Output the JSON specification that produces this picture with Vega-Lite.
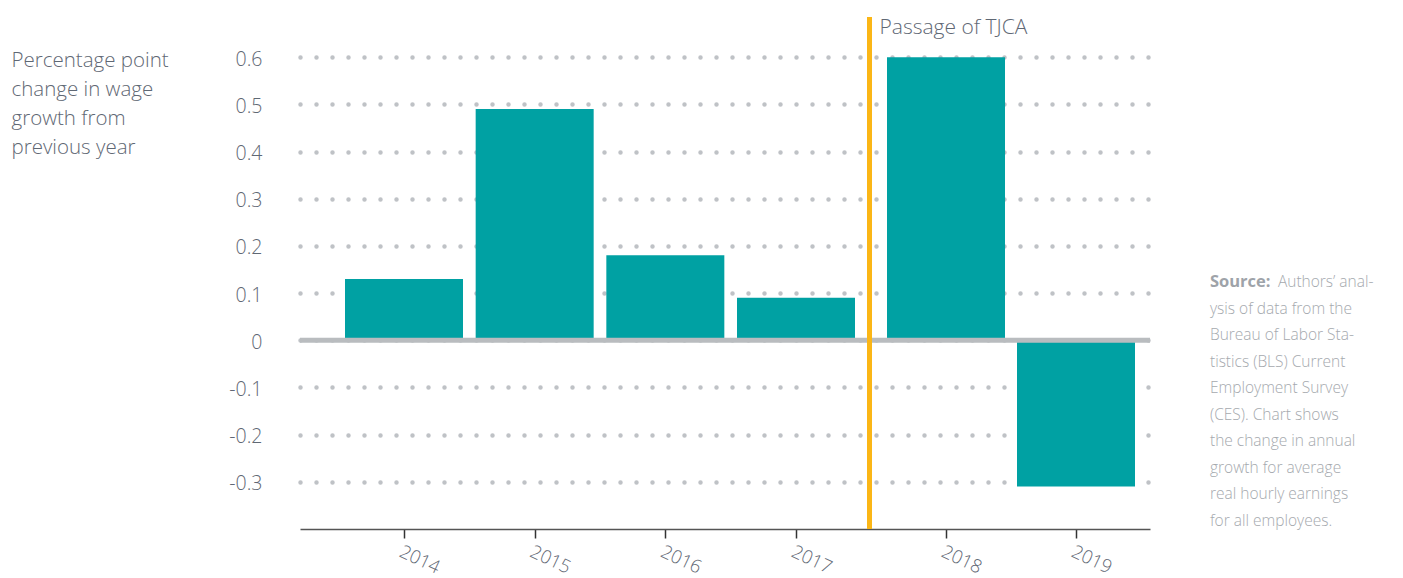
{
  "$schema": "https://vega.github.io/schema/vega-lite/v6.json",
  "autosize": {"type": "none"},
  "padding": {"left": 300, "top": 10, "right": 253, "bottom": 49},
  "width": 850,
  "height": 519,
  "config": {
    "view": {"stroke": null},
    "font": "Open Sans",
    "text": {"font": "Open Sans"}
  },
  "layer": [
    {
      "data": {
        "values": [
          {"year": 2014, "change": 0.13},
          {"year": 2015, "change": 0.49},
          {"year": 2016, "change": 0.18},
          {"year": 2017, "change": 0.09},
          {"year": 2018, "change": 0.60},
          {"year": 2019, "change": -0.31}
        ]
      },
      "mark": {"type": "bar", "width": 118, "color": "#00a1a3"},
      "encoding": {
        "x": {
          "field": "year",
          "type": "quantitative",
          "scale": {"domain": [2013.204, 2014, 2017, 2018, 2019, 2019.569], "range": [0, 104, 496, 646, 776, 850], "nice": false, "zero": false, "padding": 0},
          "axis": {
            "values": [2014, 2015, 2016, 2017, 2018, 2019],
            "format": "d",
            "title": null,
            "grid": false,
            "domainColor": "#555555",
            "domainWidth": 1.5,
            "tickColor": "#333333",
            "tickWidth": 1.5,
            "tickSize": 9,
            "labelAngle": 25,
            "labelAlign": "left",
            "labelBaseline": "top",
            "labelPadding": 4,
            "labelFontSize": 18.5,
            "labelFont": "Open Sans",
            "labelFontWeight": 300,
            "labelColor": "#5f6874",
            "labelOverlap": false
          }
        },
        "y": {
          "field": "change",
          "type": "quantitative",
          "scale": {"domain": [-0.4, 0.7], "nice": false},
          "axis": {
            "values": [-0.3, -0.2, -0.1, 0, 0.1, 0.2, 0.3, 0.4, 0.5, 0.6],
            "labelExpr": "replace(format(datum.value, '.1~f'), '\u2212', '-')",
            "domain": false,
            "ticks": false,
            "labelPadding": 38,
            "labelFontSize": 19.5,
            "labelFont": "Open Sans",
            "labelFontWeight": 300,
            "labelColor": "#5f6874",
            "labelOffset": 2,
            "grid": true,
            "gridColor": "#bfc2c6",
            "gridWidth": 4.5,
            "gridDash": [0, 16],
            "gridCap": "round",
            "title": ["Percentage point", "change in wage", "growth from", "previous year"],
            "titleAngle": 0,
            "titleAlign": "left",
            "titleBaseline": "alphabetic",
            "titleX": -289,
            "titleY": 56,
            "titleLineHeight": 29.3,
            "titleFontSize": 20.5,
            "titleFont": "Open Sans",
            "titleFontWeight": 300,
            "titleColor": "#5f6874"
          }
        }
      }
    },
    {
      "data": {"values": [{"v": 0}]},
      "mark": {"type": "rule", "color": "#b9bcbf", "strokeWidth": 5},
      "encoding": {"y": {"field": "v", "type": "quantitative"}}
    },
    {
      "data": {"values": [{"x": 2017.49, "y": -0.4, "y2": 0.685}]},
      "mark": {"type": "rule", "color": "#fbb616", "strokeWidth": 5},
      "encoding": {
        "x": {"field": "x", "type": "quantitative"},
        "y": {"field": "y", "type": "quantitative"},
        "y2": {"field": "y2"}
      }
    },
    {
      "data": {"values": [{"x": 2017.49, "y": 0.65, "label": "Passage of TJCA"}]},
      "mark": {"type": "text", "align": "left", "baseline": "alphabetic", "dx": 10, "fontSize": 21, "fontWeight": 300, "color": "#5f6874"},
      "encoding": {
        "x": {"field": "x", "type": "quantitative"},
        "y": {"field": "y", "type": "quantitative"},
        "text": {"field": "label"}
      }
    },
    {
      "data": {"values": [{"x": 2020.03, "y": 0.1125, "label": "Source:"}]},
      "mark": {"type": "text", "align": "left", "baseline": "alphabetic", "fontSize": 16.5, "fontWeight": "bold", "color": "#9ea3a9"},
      "encoding": {
        "x": {"field": "x", "type": "quantitative"},
        "y": {"field": "y", "type": "quantitative"},
        "text": {"field": "label"}
      }
    },
    {
      "data": {"values": [{"x": 2020.03, "y": 0.1125, "label": "Authors’ anal-"}]},
      "mark": {"type": "text", "align": "left", "baseline": "alphabetic", "dx": 68, "fontSize": 15.5, "fontWeight": 300, "color": "#a5a9ae"},
      "encoding": {
        "x": {"field": "x", "type": "quantitative"},
        "y": {"field": "y", "type": "quantitative"},
        "text": {"field": "label"}
      }
    },
    {
      "data": {"values": [{"x": 2020.03, "y": 0.0564, "label": ["ysis of data from the", "Bureau of Labor Sta-", "tistics (BLS) Current", "Employment Survey", "(CES). Chart shows", "the change in annual", "growth for average", "real hourly earnings", "for all employees."]}]},
      "mark": {"type": "text", "align": "left", "baseline": "alphabetic", "lineHeight": 26.5, "fontSize": 15.5, "fontWeight": 300, "color": "#a5a9ae"},
      "encoding": {
        "x": {"field": "x", "type": "quantitative"},
        "y": {"field": "y", "type": "quantitative"},
        "text": {"field": "label"}
      }
    }
  ]
}
